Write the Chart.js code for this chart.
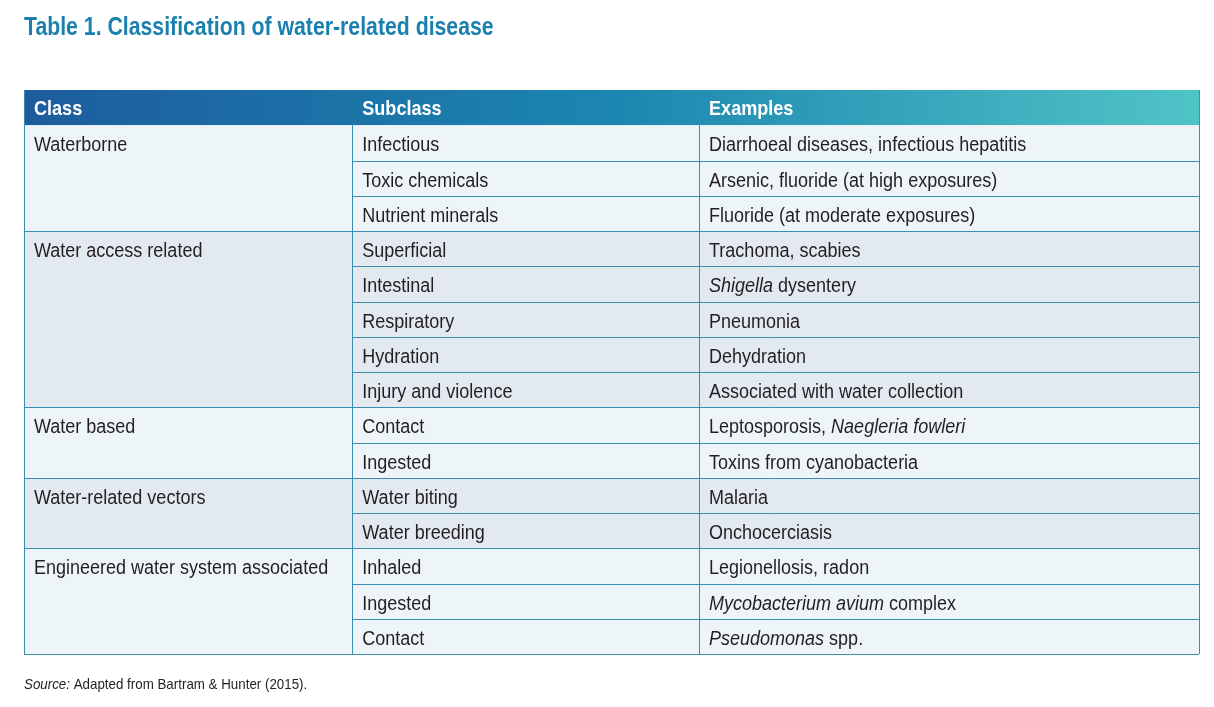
<!DOCTYPE html>
<html>
<head>
<meta charset="utf-8">
<script src="https://cdn.jsdelivr.net/npm/chart.js@4"></script>
<style>
  html, body { margin: 0; padding: 0; background: #fff; }
  #wrap { width: 1214px; height: 707px; }
</style>
</head>
<body>
<div id="wrap"><canvas id="tableChart"></canvas></div>
<script>
// Table content
const headers = ['Class', 'Subclass', 'Examples'];
const classNames = ['Waterborne', 'Water access related', 'Water based', 'Water-related vectors', 'Engineered water system associated'];
const classSpans = [3, 5, 2, 2, 3];
const subclasses = [
  'Infectious', 'Toxic chemicals', 'Nutrient minerals',
  'Superficial', 'Intestinal', 'Respiratory', 'Hydration', 'Injury and violence',
  'Contact', 'Ingested',
  'Water biting', 'Water breeding',
  'Inhaled', 'Ingested', 'Contact'
];
// *text* marks italic
const examples = [
  'Diarrhoeal diseases, infectious hepatitis', 'Arsenic, fluoride (at high exposures)', 'Fluoride (at moderate exposures)',
  'Trachoma, scabies', '*Shigella* dysentery', 'Pneumonia', 'Dehydration', 'Associated with water collection',
  'Leptosporosis, *Naegleria fowleri*', 'Toxins from cyanobacteria',
  'Malaria', 'Onchocerciasis',
  'Legionellosis, radon', '*Mycobacterium avium* complex', '*Pseudomonas* spp.'
];
const titleText = 'Table 1. Classification of water-related disease';

const FONT = "'Liberation Sans', Arial, sans-serif";
const colFrac = [0, 0.2794, 0.5745, 1];
const groupFill = ['#eef5f8', '#e3e9f0'];
const lineColor = '#3d8db0';

// draw text squeezed horizontally to imitate a condensed face; *text* = italic
function drawRich(ctx, str, x, y, size, sx, bold) {
  ctx.save();
  ctx.translate(x, y);
  ctx.scale(sx, 1);
  let px = 0;
  str.split('*').forEach((p, i) => {
    if (!p) return;
    ctx.font = (i % 2 ? 'italic ' : '') + (bold ? 'bold ' : '') + size + 'px ' + FONT;
    ctx.fillText(p, px, 0);
    px += ctx.measureText(p).width;
  });
  ctx.restore();
}

const tablePlugin = {
  id: 'tablePlugin',
  afterDraw(chart) {
    const ctx = chart.ctx;
    const xs = chart.scales.x, ys = chart.scales.y;
    const cx = colFrac.map(f => xs.getPixelForValue(f));
    const rowTop = i => ys.getPixelForValue(i);
    const nRows = subclasses.length;
    ctx.save();
    ctx.textBaseline = 'middle';

    // title
    ctx.fillStyle = '#1b80ae';
    drawRich(ctx, titleText, 24, 28, 25, 0.85, true);

    // header
    const h0 = rowTop(0), h1 = rowTop(1);
    const grad = ctx.createLinearGradient(cx[0], 0, cx[3], 0);
    grad.addColorStop(0, '#1d5c9e');
    grad.addColorStop(0.5, '#1b86b0');
    grad.addColorStop(1, '#4fc4c6');
    ctx.fillStyle = grad;
    ctx.fillRect(cx[0], h0, cx[3] - cx[0], h1 - h0);
    ctx.fillStyle = '#fff';
    headers.forEach((h, c) => {
      drawRich(ctx, h, cx[c] + 10, (h0 + h1) / 2 + 2, 21, 0.86, true);
    });

    // group backgrounds
    let r = 0;
    classSpans.forEach((span, g) => {
      ctx.fillStyle = groupFill[g % 2];
      ctx.fillRect(cx[0], rowTop(r + 1), cx[3] - cx[0], rowTop(r + 1 + span) - rowTop(r + 1));
      r += span;
    });

    // grid lines
    ctx.strokeStyle = lineColor;
    ctx.lineWidth = 1;
    ctx.beginPath();
    for (let i = 1; i <= nRows; i++) {
      const y = Math.round(rowTop(i + 1)) + 0.5;
      ctx.moveTo(cx[1], y); ctx.lineTo(cx[3], y);
    }
    r = 0;
    classSpans.forEach(span => {
      r += span;
      const y = Math.round(rowTop(r + 1)) + 0.5;
      ctx.moveTo(cx[0], y); ctx.lineTo(cx[1], y);
    });
    [0, 1, 2, 3].forEach(c => {
      const x = Math.round(cx[c]) + 0.5;
      ctx.moveTo(x, c === 0 || c === 3 ? h0 : h1); ctx.lineTo(x, rowTop(nRows + 1));
    });
    ctx.stroke();

    // text
    ctx.fillStyle = '#231f20';
    r = 0;
    classNames.forEach((name, g) => {
      drawRich(ctx, name, cx[0] + 10, (rowTop(r + 1) + rowTop(r + 2)) / 2 + 3, 20, 0.9);
      r += classSpans[g];
    });
    subclasses.forEach((s, i) => {
      const ym = (rowTop(i + 1) + rowTop(i + 2)) / 2 + 3;
      drawRich(ctx, s, cx[1] + 10, ym, 20, 0.9);
      drawRich(ctx, examples[i], cx[2] + 10, ym, 20, 0.9);
    });

    // source
    drawRich(ctx, '*Source:* Adapted from Bartram & Hunter (2015).', 24, 685, 14.5, 0.92);
    ctx.restore();
  }
};

new Chart(document.getElementById('tableChart'), {
  type: 'scatter',
  data: { datasets: [{ data: [] }] },
  options: {
    responsive: true,
    maintainAspectRatio: false,
    animation: false,
    layout: { padding: { left: 24, right: 15, top: 90, bottom: 53 } },
    plugins: { legend: { display: false }, tooltip: { enabled: false } },
    scales: {
      x: { type: 'linear', min: 0, max: 1, display: false },
      y: { type: 'linear', min: 0, max: subclasses.length + 1, reverse: true, display: false }
    }
  },
  plugins: [tablePlugin]
});
</script>
</body>
</html>
